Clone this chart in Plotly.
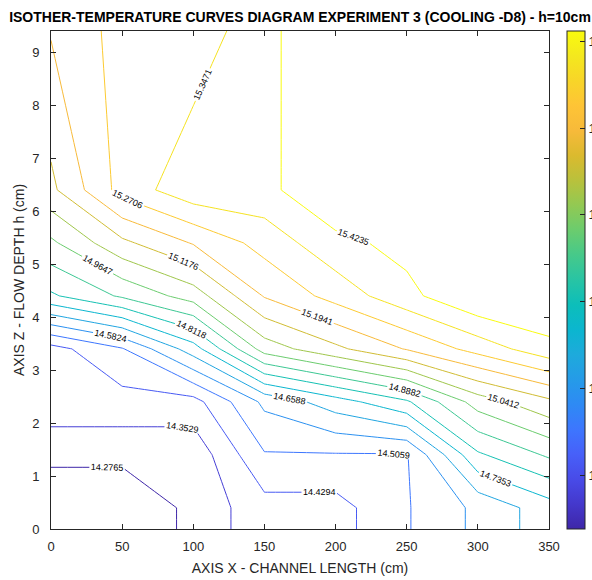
import plotly.graph_objects as go

# Measurement grid: channel length positions (cm) and flow depths (cm)
x_cm = [0, 50, 100, 150, 200, 250, 300, 350]
h_cm = [0, 0.4, 1.4, 2.4, 3.4, 4.4, 5.4, 6.4, 9.4]

# Temperature (deg C) per depth row, one value per x position
t_h00 = [14.2, 14.2, 14.3, 14.4, 14.4, 14.5, 14.6, 14.7]
t_h04 = [14.2, 14.2, 14.3, 14.4, 14.4, 14.5, 14.6, 14.7]
t_h14 = [14.3, 14.3, 14.3, 14.5, 14.5, 14.5, 14.8, 14.9]
t_h24 = [14.4, 14.4, 14.4, 14.6, 14.7, 14.8, 15.0, 15.1]
t_h34 = [14.4, 14.5, 14.7, 15.0, 15.1, 15.2, 15.3, 15.4]
t_h44 = [14.8, 14.9, 15.0, 15.2, 15.3, 15.4, 15.5, 15.5]
t_h54 = [14.95, 15.1, 15.2, 15.3, 15.4, 15.45, 15.5, 15.5]
t_h64 = [15.1, 15.3, 15.4, 15.4, 15.5, 15.5, 15.5, 15.5]
t_h94 = [15.2, 15.3, 15.3, 15.4, 15.5, 15.5, 15.5, 15.5]

temps = [t_h00, t_h04, t_h14, t_h24, t_h34, t_h44, t_h54, t_h64, t_h94]

# 16 isotherms evenly spaced strictly between the data min and max
n_levels = 16
t_min = min(min(r) for r in temps)
t_max = max(max(r) for r in temps)
step = (t_max - t_min) / (n_levels + 1)
lvl_first = t_min + step
lvl_last = t_max - step

cbar_ticks = [14.4, 14.6, 14.8, 15.0, 15.2, 15.4]

# parula-like colour map
parula = [
    [0.00, "rgb(62,38,168)"],
    [0.05, "rgb(68,56,204)"],
    [0.10, "rgb(72,75,232)"],
    [0.15, "rgb(71,96,249)"],
    [0.20, "rgb(61,118,254)"],
    [0.25, "rgb(46,138,244)"],
    [0.30, "rgb(37,155,232)"],
    [0.35, "rgb(30,170,220)"],
    [0.40, "rgb(11,182,207)"],
    [0.45, "rgb(12,190,186)"],
    [0.50, "rgb(40,196,164)"],
    [0.55, "rgb(70,201,138)"],
    [0.60, "rgb(107,204,110)"],
    [0.65, "rgb(146,201,83)"],
    [0.70, "rgb(185,193,60)"],
    [0.75, "rgb(219,186,46)"],
    [0.80, "rgb(247,186,58)"],
    [0.85, "rgb(254,196,54)"],
    [0.90, "rgb(248,213,40)"],
    [0.95, "rgb(244,232,30)"],
    [1.00, "rgb(249,251,14)"],
]

W, H = 592, 580
ML, MR, MT, MB = 51, 43, 31, 51
plot_w = W - ML - MR
ink = "#262626"
font_main = "Liberation Sans, Arial, sans-serif"

fig = go.Figure()

# transparent heatmap only to carry the continuous colour bar
fig.add_trace(go.Heatmap(
    x=x_cm, y=h_cm, z=temps,
    zmin=lvl_first, zmax=lvl_last,
    colorscale=parula, opacity=0, hoverinfo="skip",
    colorbar=dict(
        x=(567 - ML) / plot_w, xanchor="left", xref="paper",
        y=0.5, yanchor="middle", len=1, lenmode="fraction",
        thickness=18, thicknessmode="pixels",
        xpad=0, ypad=0,
        outlinewidth=1, outlinecolor=ink, borderwidth=0,
        tickmode="array", tickvals=cbar_ticks,
        ticktext=[f"{v:.1f}" for v in cbar_ticks],
        ticks="inside", ticklen=5, tickcolor=ink, tickwidth=1,
        tickfont=dict(size=13, color=ink, family=font_main),
    ),
))

fig.add_trace(go.Contour(
    x=x_cm, y=h_cm, z=temps,
    autocontour=False,
    contours=dict(
        start=lvl_first, end=lvl_last + step / 1000, size=step,
        coloring="lines", showlabels=True,
        labelformat=".4f",
        labelfont=dict(size=9, color="black", family=font_main),
    ),
    line=dict(width=1, smoothing=0),
    colorscale=parula,
    showscale=False,
    hoverinfo="skip",
))

axis_common = dict(
    showline=True, linecolor=ink, linewidth=1, mirror="ticks",
    ticks="inside", ticklen=5, tickcolor=ink, tickwidth=1,
    showgrid=False, zeroline=False,
    tickfont=dict(size=13, color=ink, family=font_main),
)

fig.update_layout(
    width=W, height=H,
    margin=dict(l=ML, r=MR, t=MT, b=MB, pad=0, autoexpand=False),
    paper_bgcolor="white", plot_bgcolor="white",
    showlegend=False,
    title=dict(
        text="<b>ISOTHER-TEMPERATURE CURVES DIAGRAM EXPERIMENT 3 (COOLING -D8) - h=10cm</b>",
        x=(300 / W), xanchor="center", xref="container",
        y=1 - 17 / H, yanchor="middle", yref="container",
        font=dict(size=14, color="black", family=font_main),
    ),
    xaxis=dict(
        range=[0, 350], tickmode="array", tickvals=list(range(0, 351, 50)),
        ticklabelstandoff=5,
        title=dict(text="AXIS X - CHANNEL LENGTH (cm)", standoff=10,
                   font=dict(size=14, color=ink, family=font_main)),
        **axis_common,
    ),
    yaxis=dict(
        range=[0, 9.4], tickmode="array", tickvals=list(range(0, 10)),
        ticklabelstandoff=8,
        title=dict(text="AXIS Z - FLOW DEPTH h (cm)", standoff=4,
                   font=dict(size=14, color=ink, family=font_main)),
        **axis_common,
    ),
)

fig.write_html("out.html")
